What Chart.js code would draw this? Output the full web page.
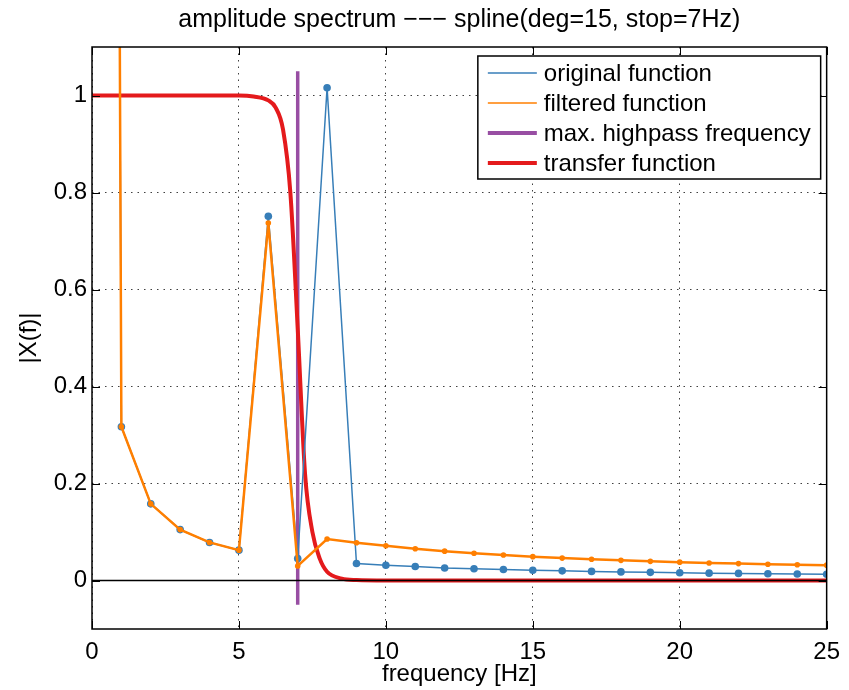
<!DOCTYPE html>
<html>
<head>
<meta charset="utf-8">
<script src="https://cdn.jsdelivr.net/npm/chart.js@4.4.1/dist/chart.umd.min.js"></script>
<style>
  html, body { margin: 0; padding: 0; background: #fff; }
  #wrap { width: 849px; height: 690px; }
</style>
</head>
<body>
<div id="wrap"><canvas id="spectrumChart" width="849" height="690"></canvas></div>
<script>
// amplitude spectrum values
const freq = [0, 1, 2, 3, 4, 5, 6, 7, 8, 9, 10, 11, 12, 13, 14, 15, 16, 17, 18, 19, 20, 21, 22, 23, 24, 25];
const original = [15, 0.317, 0.158, 0.105, 0.0785, 0.0626, 0.751, 0.0455, 1.016, 0.0352, 0.0315, 0.0288, 0.0258, 0.0242,
    0.0226, 0.0212, 0.0199, 0.0188, 0.0177, 0.0168, 0.016, 0.0152, 0.0146, 0.014, 0.0134, 0.0128];
const filtered = [15, 0.317, 0.158, 0.105, 0.0785, 0.0626, 0.737, 0.030, 0.0855, 0.0778, 0.0715, 0.0655, 0.0605, 0.0563,
    0.0525, 0.0492, 0.0462, 0.0437, 0.0415, 0.0395, 0.0378, 0.0362, 0.0348, 0.0336, 0.0326, 0.0316];

const tfFreq = [0, 5, 5.5, 6, 6.25, 6.5, 6.75, 7, 7.25, 7.5, 7.75, 8, 8.5, 9, 10, 25];
const transfer = [1, 1, 0.998, 0.99, 0.975, 0.93, 0.8, 0.52, 0.22, 0.1, 0.045, 0.018, 0.004, 0.001, 0, 0];

const stopFreq = [7, 7];
const stopLine = [-0.05, 1.05];

const zeroFreq = [0, 25];
const zeroLine = [0, 0];

const xTicks = [0, 5, 10, 15, 20, 25];
const yTicks = [0, 0.2, 0.4, 0.6, 0.8, 1];

const pts = (xs, ys) => xs.map((v, i) => ({x: v, y: ys[i]}));

const font = {family: '"Liberation Sans", Arial, sans-serif', size: 24};
Chart.defaults.font.family = font.family;
Chart.defaults.color = '#000';

// box round the axes, inward ticks and the legend inside the plot
const axesBox = {
    id: 'axesBox',
    afterDatasetsDraw(chart) {
        const {ctx, chartArea: a, scales: {x, y}} = chart;
        ctx.save();
        ctx.strokeStyle = '#000';
        ctx.lineWidth = 1;
        ctx.beginPath();
        xTicks.forEach(v => {
            const px = Math.round(x.getPixelForValue(v)) + 0.5;
            ctx.moveTo(px, a.bottom); ctx.lineTo(px, a.bottom - 8);
            ctx.moveTo(px, a.top); ctx.lineTo(px, a.top + 8);
        });
        yTicks.forEach(v => {
            const py = Math.round(y.getPixelForValue(v)) + 0.5;
            ctx.moveTo(a.left, py); ctx.lineTo(a.left + 8, py);
            ctx.moveTo(a.right, py); ctx.lineTo(a.right - 8, py);
        });
        ctx.stroke();
        ctx.lineWidth = 1.5;
        ctx.strokeRect(a.left, a.top, a.right - a.left, a.bottom - a.top);

        // legend
        const items = chart.data.datasets.filter(d => d.label);
        ctx.font = font.size + 'px ' + font.family;
        const textW = Math.max(...items.map(d => ctx.measureText(d.label).width));
        const w = 66 + textW + 10;
        const h = 123;
        const lx = a.right - 6 - w;
        const ly = a.top + 9;
        ctx.fillStyle = '#fff';
        ctx.fillRect(lx, ly, w, h);
        ctx.lineWidth = 1.5;
        ctx.strokeRect(lx, ly, w, h);
        ctx.textBaseline = 'middle';
        ctx.textAlign = 'left';
        items.forEach((d, i) => {
            const ry = ly + 17 + 30 * i;
            ctx.strokeStyle = d.borderColor;
            ctx.lineWidth = d.legendWidth;
            ctx.beginPath();
            ctx.moveTo(lx + 10, ry);
            ctx.lineTo(lx + 59, ry);
            ctx.stroke();
            ctx.fillStyle = '#000';
            ctx.fillText(d.label, lx + 66, ry + 1);
        });
        ctx.restore();
    }
};

const spectrumChart = new Chart(document.getElementById('spectrumChart'), {
    type: 'line',
    data: {
        datasets: [
            {
                label: 'original function',
                data: pts(freq, original),
                borderColor: '#377eb8',
                backgroundColor: '#377eb8',
                borderWidth: 1.5,
                legendWidth: 1.5,
                pointRadius: 3.8,
                pointBorderWidth: 0,
                pointBackgroundColor: '#377eb8',
                clip: 0,
                order: 1
            },
            {
                label: 'filtered function',
                data: pts(freq, filtered),
                borderColor: '#ff7f00',
                backgroundColor: '#ff7f00',
                borderWidth: 2.5,
                legendWidth: 1.5,
                pointRadius: 2.8,
                pointBorderWidth: 0,
                pointBackgroundColor: '#ff7f00',
                clip: 0,
                order: 0
            },
            {
                label: 'max. highpass frequency',
                data: pts(stopFreq, stopLine),
                borderColor: '#984ea3',
                borderWidth: 3.5,
                legendWidth: 4,
                pointRadius: 0,
                clip: 0,
                order: 4
            },
            {
                label: 'transfer function',
                data: pts(tfFreq, transfer),
                borderColor: '#e41a1c',
                borderWidth: 4,
                legendWidth: 4,
                pointRadius: 0,
                cubicInterpolationMode: 'monotone',
                clip: 0,
                order: 3
            },
            {
                label: '',
                data: pts(zeroFreq, zeroLine),
                borderColor: '#000',
                borderWidth: 1.5,
                pointRadius: 0,
                clip: 0,
                order: 2
            }
        ]
    },
    options: {
        responsive: false,
        animation: false,
        events: [],
        devicePixelRatio: 1,
        layout: {
            padding: {left: 0, right: 22, top: 0, bottom: 0}
        },
        plugins: {
            legend: {display: false},
            tooltip: {enabled: false},
            title: {
                display: true,
                fullSize: false,
                text: 'amplitude spectrum −−− spline(deg=15, stop=7Hz)',
                font: {family: font.family, size: 25, weight: 'normal'},
                color: '#000',
                padding: {top: 5, bottom: 12}
            }
        },
        scales: {
            x: {
                type: 'linear',
                min: 0,
                max: 25,
                afterBuildTicks: s => { s.ticks = xTicks.map(v => ({value: v})); },
                afterFit: s => { s.height = 61; },
                ticks: {font: font, color: '#000', padding: 9, maxRotation: 0, autoSkip: false},
                grid: {drawTicks: false, color: 'rgba(0,0,0,0.75)', lineWidth: 1},
                border: {display: false, dash: [1.5, 5]},
                title: {display: true, text: 'frequency [Hz]', font: font, color: '#000', padding: {top: 0, bottom: 1.5}}
            },
            y: {
                type: 'linear',
                min: -0.1,
                max: 1.1,
                afterBuildTicks: s => { s.ticks = yTicks.map(v => ({value: v})); },
                afterFit: s => { s.width = 92; },
                ticks: {font: font, color: '#000', padding: 5, callback: v => String(v)},
                grid: {drawTicks: false, color: 'rgba(0,0,0,0.75)', lineWidth: 1},
                border: {display: false, dash: [1.5, 5]},
                title: {display: true, text: '|X(f)|', font: font, color: '#000', padding: {top: 15, bottom: 0}}
            }
        }
    },
    plugins: [axesBox]
});
</script>
</body>
</html>
